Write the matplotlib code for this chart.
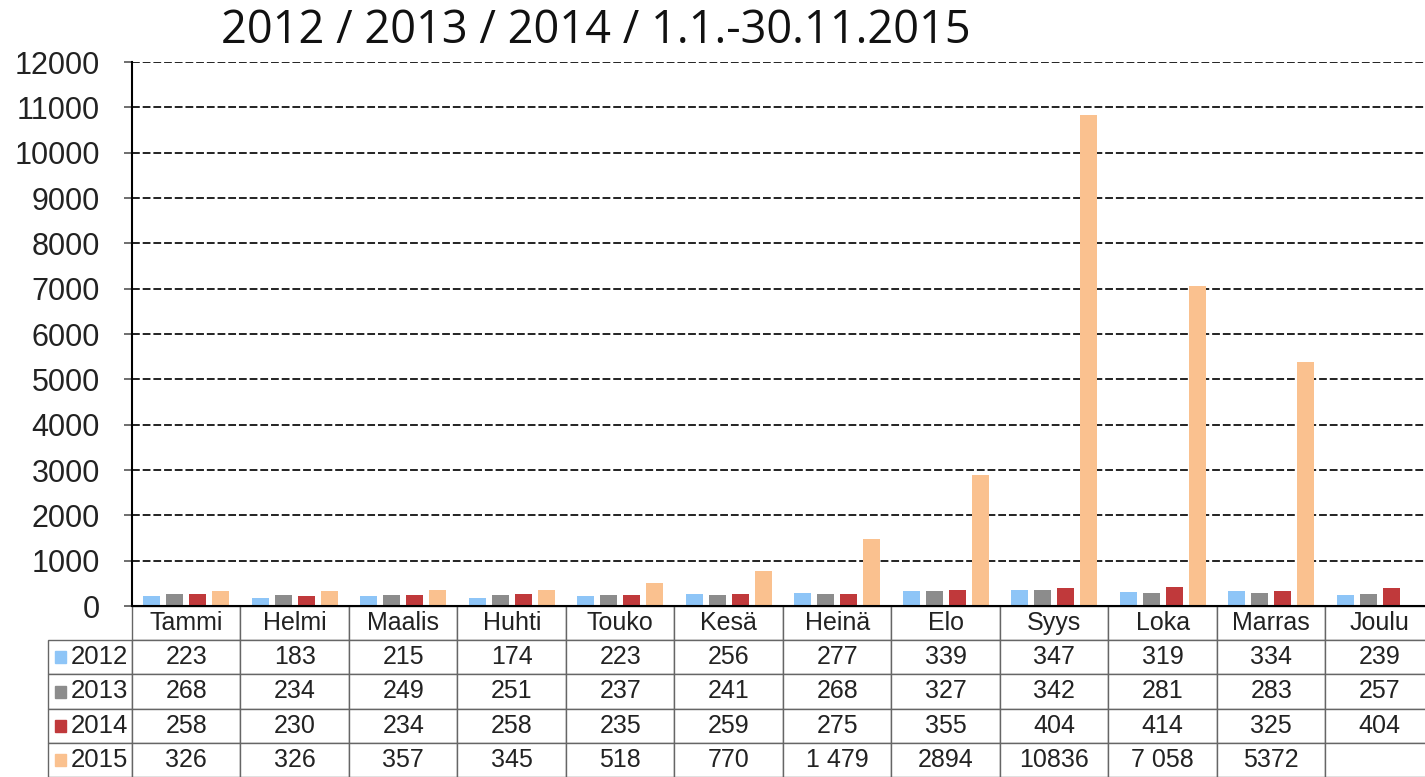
import matplotlib.pyplot as plt
import numpy as np
from matplotlib.patches import Rectangle

plt.rcParams['font.family'] = ['Liberation Sans', 'DejaVu Sans']

# data
months = ["Tammi", "Helmi", "Maalis", "Huhti", "Touko", "Kesä",
          "Heinä", "Elo", "Syys", "Loka", "Marras", "Joulu"]
years = ["2012", "2013", "2014", "2015"]
v2012 = [223, 183, 215, 174, 223, 256, 277, 339, 347, 319, 334, 239]
v2013 = [268, 234, 249, 251, 237, 241, 268, 327, 342, 281, 283, 257]
v2014 = [258, 230, 234, 258, 235, 259, 275, 355, 404, 414, 325, 404]
v2015 = [326, 326, 357, 345, 518, 770, 1479, 2894, 10836, 7058, 5372, np.nan]
# table text as printed in the source
text2015 = ["326", "326", "357", "345", "518", "770", "1 479", "2894",
            "10836", "7 058", "5372", ""]
colors = ["#8ec5f7", "#8c8c8c", "#c0393b", "#fac18f"]

W, H = 1425, 777
fig = plt.figure(figsize=(W / 100, H / 100), dpi=100)
# axes from x=132 to 1434 px, y=62 to 606 px
ax = fig.add_axes([132 / W, 1 - 606 / H, 1302 / W, 544 / H])

x = np.arange(len(months))
series = [v2012, v2013, v2014, v2015]
width = 0.157
step = 0.212
for k, vals in enumerate(series):
    ax.bar(x + (k - 1.5) * step, vals, width=width, color=colors[k], zorder=3)

ax.set_xlim(-0.5, len(months) - 0.5)
ax.set_ylim(0, 12000)
ax.set_yticks(np.arange(0, 12001, 1000))
ax.set_xticks([])
ax.yaxis.grid(True, linestyle=(0, (4, 1.5)), color='#222222', linewidth=1.4, zorder=0)
ax.tick_params(axis='y', labelsize=22, length=6, width=1.2, color='#555555',
               pad=17, labelcolor='#222222')
for s in ['top', 'right']:
    ax.spines[s].set_visible(False)
ax.spines['left'].set_linewidth(1.5)
ax.spines['bottom'].set_linewidth(1.5)
ax.spines['bottom'].set_zorder(4)

# data table under the axes
rows = [[""] + months]
rows.append([""] + [str(v) for v in v2012])
rows.append([""] + [str(v) for v in v2013])
rows.append([""] + [str(v) for v in v2014])
rows.append([""] + text2015)

label_w = 84 / 1302
col_w = 108.5 / 1302
tab_h = 171 / 544
tab = ax.table(cellText=rows, colWidths=[label_w] + [col_w] * 12,
               cellLoc='center',
               bbox=[-label_w, -tab_h, label_w + 12 * col_w, tab_h])
tab.auto_set_font_size(False)
for (r, c), cell in tab.get_celld().items():
    cell.set_edgecolor('#666666')
    cell.set_linewidth(1.0)
    cell.get_text().set_fontsize(18)
    cell.get_text().set_color('#222222')
    if r == 0 and c == 0:
        cell.visible_edges = ''

# row labels with legend keys
row_h = tab_h / 5
for k in range(4):
    yc = -row_h * (k + 1.5)
    ax.add_patch(Rectangle((-label_w + 7 / 1302, yc - 6 / 544), 11 / 1302, 12 / 544,
                           transform=ax.transAxes, color=colors[k], clip_on=False))
    ax.text(-4 / 1302, yc, years[k], transform=ax.transAxes, ha='right',
            va='center', fontsize=18.5, color='#222222')

fig.text(596 / W, 1 - 31 / H, "2012 / 2013 / 2014 / 1.1.-30.11.2015",
         fontsize=32.5, family='Open Sans', ha='center', va='center', color='#111111')

fig.savefig("out.png", dpi=100)
